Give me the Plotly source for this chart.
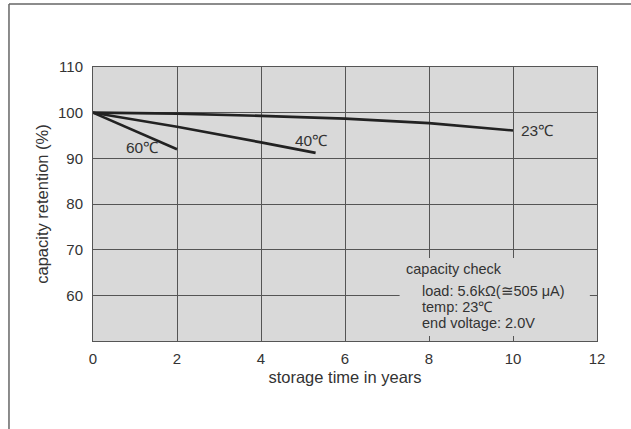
import plotly.graph_objects as go

# Data
x_23 = [0, 2, 4, 6, 8, 10]
y_23 = [100, 99.8, 99.3, 98.7, 97.7, 96.1]
x_40 = [0, 2, 4, 5.3]
y_40 = [100, 96.9, 93.5, 91.2]
x_60 = [0, 2]
y_60 = [100, 92.0]

x_ticks = [0, 2, 4, 6, 8, 10, 12]
y_ticks = [60, 70, 80, 90, 100, 110]

series_labels = ["23℃", "40℃", "60℃"]
note_lines = ["capacity check", "load: 5.6kΩ(≅505 μA)", "temp: 23℃", "end voltage: 2.0V"]

FONT = "Liberation Sans, Arial, Helvetica, sans-serif"
TXT = "#333333"
PLOT_BG = "#d9d9d9"
GRID = "#555555"
LINE = "#222222"

fig = go.Figure()
for xs, ys in [(x_23, y_23), (x_40, y_40), (x_60, y_60)]:
    fig.add_trace(go.Scatter(x=xs, y=ys, mode="lines",
                             line=dict(color=LINE, width=2.6),
                             showlegend=False, hoverinfo="skip"))

# Box behind the note that hides the grid lines
fig.add_shape(type="rect", xref="x", yref="y", x0=7.3, x1=11.83, y0=51.1, y1=68.2,
              fillcolor=PLOT_BG, line=dict(width=0), layer="between")

# Outer frame lines (top and left) of the scanned figure
fig.add_shape(type="line", xref="paper", yref="paper",
              x0=-0.1667, x1=1.1, y0=1.2299, y1=1.2299,
              line=dict(color="#666666", width=1.5))
fig.add_shape(type="line", xref="paper", yref="paper",
              x0=-0.1667, x1=-0.1667, y0=1.2299, y1=-0.35,
              line=dict(color="#666666", width=1.5))

# Curve labels
lab_font = dict(family=FONT, size=15.5, color=TXT)
fig.add_annotation(x=1.17, y=92.3, text=series_labels[2], showarrow=False, font=lab_font)
fig.add_annotation(x=5.2, y=94.0, text=series_labels[1], showarrow=False, font=lab_font)
fig.add_annotation(x=10.15, y=96.1, text=series_labels[0], showarrow=False,
                   xanchor="left", font=lab_font)

# Note text
note_pos = [(7.43, 65.8), (7.80, 61.0), (7.80, 57.45), (7.80, 53.85)]
for (nx, ny), t in zip(note_pos, note_lines):
    fig.add_annotation(x=nx, y=ny, text=t, showarrow=False, xanchor="left",
                       yanchor="middle", borderpad=0,
                       font=dict(family=FONT, size=14.5, color=TXT))

fig.update_layout(
    width=631, height=429,
    margin=dict(l=93, r=34, t=67, b=88),
    paper_bgcolor="white",
    plot_bgcolor=PLOT_BG,
    font=dict(family=FONT, size=15, color=TXT),
    showlegend=False,
)
fig.update_xaxes(range=[0, 12], tickvals=x_ticks, ticktext=[str(v) for v in x_ticks],
                 showgrid=True, gridcolor=GRID, gridwidth=1,
                 showline=True, linecolor=GRID, linewidth=1, mirror=True,
                 ticks="", zeroline=False, ticklabelstandoff=4,
                 tickfont=dict(family=FONT, size=15, color=TXT),
                 title=dict(text="storage time in years", standoff=5,
                            font=dict(family=FONT, size=16.5, color=TXT)))
fig.update_yaxes(range=[50, 110], tickvals=y_ticks, ticktext=[str(v) for v in y_ticks],
                 showgrid=True, gridcolor=GRID, gridwidth=1,
                 showline=True, linecolor=GRID, linewidth=1, mirror=True,
                 ticks="", zeroline=False, ticklabelstandoff=6,
                 tickfont=dict(family=FONT, size=15, color=TXT),
                 title=dict(text="capacity retention (%)", standoff=5,
                            font=dict(family=FONT, size=16.5, color=TXT)))

fig.write_html("out.html", config={"displayModeBar": False},
               post_script="document.body.style.margin='0px';")
